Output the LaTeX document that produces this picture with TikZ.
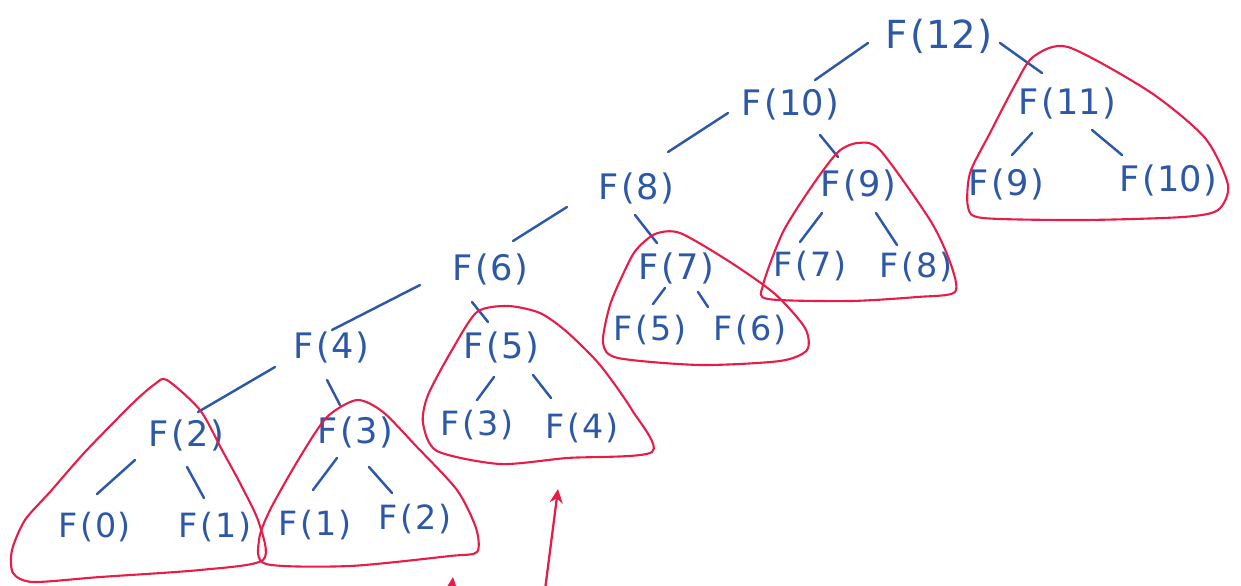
\documentclass[tikz,border=0pt]{standalone}
\usepackage{fontspec}
\setmainfont{DejaVu Sans}
\usetikzlibrary{arrows.meta,calc}
\definecolor{fblue}{RGB}{45,88,168}
\definecolor{fred}{RGB}{232,28,72}
\newcommand\ff[1]{F\kern1.6pt(\kern0.8pt#1\kern0.8pt)}
\tikzset{
  lbl/.style={text=fblue,inner sep=0pt,font=\fontsize{20}{20}\selectfont},
  big/.style={font=\fontsize{22}{22}\selectfont},
  small/.style={font=\fontsize{19}{19}\selectfont},
  edge/.style={draw=fblue,line width=1.4pt,line cap=round},
  redloop/.style={draw=fred,line width=1.2pt,line join=round},
  redarrow/.style={draw=fred,line width=1.3pt,-{Stealth[length=8pt,width=7.5pt]}}
}
\begin{document}
\begin{tikzpicture}[x=0.02cm,y=-0.02cm]
\useasboundingbox (0,0) rectangle (1241,585);
% nodes
\node[lbl,big] (F12) at (939,36) {\ff{12}};
\node[lbl] (F10a) at (790,104) {\ff{10}};
\node[lbl] (F11) at (1067,103) {\ff{11}};
\node[lbl] (F8a) at (636,188) {\ff{8}};
\node[lbl] (F9a) at (858,185) {\ff{9}};
\node[lbl] (F9b) at (1006,184) {\ff{9}};
\node[lbl] (F10b) at (1168,180) {\ff{10}};
\node[lbl] (F6a) at (490,269) {\ff{6}};
\node[lbl] (F7a) at (676,268) {\ff{7}};
\node[lbl,small] (F7b) at (810,266) {\ff{7}};
\node[lbl,small] (F8b) at (916,267) {\ff{8}};
\node[lbl] (F4a) at (331,347) {\ff{4}};
\node[lbl] (F5a) at (501,347) {\ff{5}};
\node[lbl,small] (F5b) at (650,330) {\ff{5}};
\node[lbl,small] (F6b) at (750,330) {\ff{6}};
\node[lbl] (F2a) at (186,435) {\ff{2}};
\node[lbl] (F3a) at (355,432) {\ff{3}};
\node[lbl,small] (F3b) at (477,425) {\ff{3}};
\node[lbl,small] (F4b) at (582,428) {\ff{4}};
\node[lbl,small] (F0) at (95,527) {\ff{0}};
\node[lbl,small] (F1a) at (215,527) {\ff{1}};
\node[lbl,small] (F1b) at (315,525) {\ff{1}};
\node[lbl,small] (F2b) at (415,519) {\ff{2}};
% edges
\draw[edge] ($(F12)+(-71,7)$) -- ($(F10a)+(25,-24)$);
\draw[edge] ($(F12)+(61,7)$) -- ($(F11)+(-25,-30)$);
\draw[edge] ($(F10a)+(-62,9)$) -- ($(F8a)+(32,-36)$);
\draw[edge] ($(F10a)+(30,31)$) -- ($(F9a)+(-20,-28)$);
\draw[edge] ($(F11)+(-35,30)$) -- ($(F9b)+(6,-29)$);
\draw[edge] ($(F11)+(25,27)$) -- ($(F10b)+(-46,-25)$);
\draw[edge] ($(F8a)+(-69,19)$) -- ($(F6a)+(23,-28)$);
\draw[edge] ($(F8a)+(-1,27)$) -- ($(F7a)+(-19,-25)$);
\draw[edge] ($(F9a)+(-36,28)$) -- ($(F7b)+(-10,-24)$);
\draw[edge] ($(F9a)+(18,28)$) -- ($(F8b)+(-19,-22)$);
\draw[edge] ($(F6a)+(-70,16)$) -- ($(F4a)+(1,-17)$);
\draw[edge] ($(F6a)+(-18,33)$) -- ($(F5a)+(-13,-25)$);
\draw[edge] ($(F7a)+(-11,20)$) -- ($(F5b)+(3,-26)$);
\draw[edge] ($(F7a)+(22,24)$) -- ($(F6b)+(-42,-23)$);
\draw[edge] ($(F4a)+(-56,20)$) -- ($(F2a)+(12,-23)$);
\draw[edge] ($(F4a)+(-4,33)$) -- ($(F3a)+(-15,-27)$);
\draw[edge] ($(F5a)+(-7,30)$) -- ($(F3b)+(0,-25)$);
\draw[edge] ($(F5a)+(32,28)$) -- ($(F4b)+(-31,-30)$);
\draw[edge] ($(F2a)+(-51,25)$) -- ($(F0)+(2,-33)$);
\draw[edge] ($(F2a)+(1,32)$) -- ($(F1a)+(-11,-29)$);
\draw[edge] ($(F3a)+(-18,26)$) -- ($(F1b)+(-2,-35)$);
\draw[edge] ($(F3a)+(14,35)$) -- ($(F2b)+(-23,-26)$);
% red loops
\draw[redloop] plot[smooth cycle,tension=0.45] coordinates {(1033,57) (1068,47) (1150,92) (1205,138) (1228,185) (1218,210) (1183,217) (1083,220) (983,218) (968,207) (970,173) (990,133) (1015,85)};
\draw[redloop] plot[smooth cycle,tension=0.45] coordinates {(838,152) (858,143) (880,150) (930,220) (950,262) (955,292) (917,297) (850,301) (768,299) (763,285) (783,232) (812,186)};
\draw[redloop] plot[smooth cycle,tension=0.45] coordinates {(636,250) (655,234) (680,233) (730,262) (775,294) (805,328) (807,350) (780,361) (700,365) (618,358) (603,343) (610,305) (625,270)};
\draw[redloop] plot[smooth cycle,tension=0.45] coordinates {(477,312) (508,306) (540,313) (567,332) (600,365) (632,410) (652,452) (567,458) (500,464) (437,451) (423,423) (428,395) (452,350)};
\draw[redloop] plot[smooth cycle,tension=0.45] coordinates {(327,417) (357,400) (383,412) (417,447) (457,490) (476,528) (477,552) (450,556) (350,566) (266,564) (259,540) (270,510) (300,457)};
\draw[redloop] plot[smooth cycle,tension=0.45] coordinates {(155,384) (167,380) (200,410) (222,450) (241,485) (259,523) (263,560) (200,570) (100,577) (33,582) (13,573) (12,550) (25,520) (50,492) (85,452) (133,403)};
% red arrows
\coordinate (a1s) at (545,590);
\coordinate (a1e) at (558,489);
\coordinate (a2s) at (451,595);
\coordinate (a2e) at (453,577);
\draw[redarrow] (a1s) -- (a1e);
\draw[redarrow] (a2s) -- (a2e);
\end{tikzpicture}
\end{document}
